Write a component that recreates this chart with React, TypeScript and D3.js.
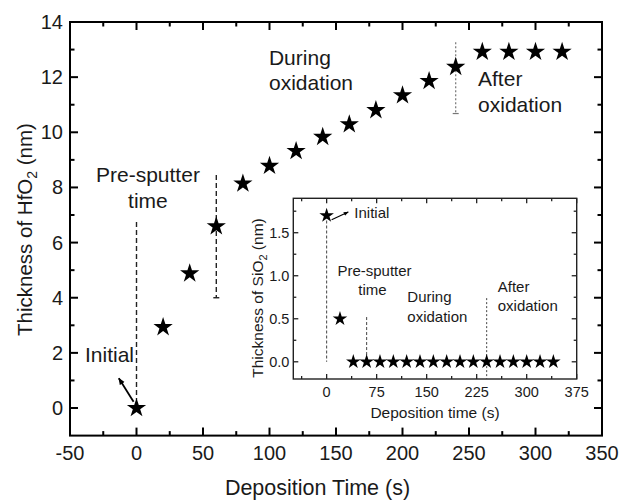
import React from "react";
import * as d3 from "d3";

// ---------- data ----------
const mainTimes = [0, 20, 40, 60, 80, 100, 120, 140, 160, 180, 200, 220, 240, 260, 280, 300, 320];
const mainThickness = [0, 2.93, 4.88, 6.59, 8.14, 8.78, 9.32, 9.83, 10.29, 10.8, 11.34, 11.86, 12.37, 12.92, 12.92, 12.92, 12.92];

const insetTimes = [0, 20, 40, 60, 80, 100, 120, 140, 160, 180, 200, 220, 240, 260, 280, 300, 320, 340];
const insetThickness = [1.7, 0.5, 0, 0, 0, 0, 0, 0, 0, 0, 0, 0, 0, 0, 0, 0, 0, 0];

const mainXTicks = [-50, 0, 50, 100, 150, 200, 250, 300, 350];
const mainXMinor = [-25, 25, 75, 125, 175, 225, 275, 325];
const mainYTicks = [0, 2, 4, 6, 8, 10, 12, 14];
const mainYMinor = [1, 3, 5, 7, 9, 11, 13];

const insetXTicks = [0, 75, 150, 225, 300, 375];
const insetXMinor = [-37.5, 37.5, 112.5, 187.5, 262.5, 337.5];
const insetYTicks = [0, 0.5, 1.0, 1.5];
const insetYMinor = [0.25, 0.75, 1.25, 1.75];

const FONT = "'Liberation Sans', Arial, Helvetica, sans-serif";

export default function App() {
  // main scales
  const x = d3.scaleLinear().domain([-50, 350]).range([70, 602]);
  const y = d3.scaleLinear().domain([-1, 14]).range([435.6, 22]);
  // inset scales
  const ix = d3.scaleLinear().domain([-50, 375]).range([293.3, 576.7]);
  const iy = d3.scaleLinear().domain([-0.2, 1.9]).range([379, 198.3]);

  const bigStar = d3.symbol().type(d3.symbolStar).size(115)() as string;
  const smallStar = d3.symbol().type(d3.symbolStar).size(66)() as string;

  const [mx0, mx1] = x.range();
  const [my0, my1] = y.range();
  const [ix0, ix1] = ix.range();
  const [iy0, iy1] = iy.range();

  const majorLen = 8, minorLen = 4.5;
  const iMajor = 5, iMinor = 3;

  return (
    <svg
      width={621}
      height={500}
      style={{ position: "absolute", left: 0, top: 0, display: "block", fontFamily: FONT, background: "#fff" }}
    >
      <defs>
        <marker id="arrowBig" viewBox="0 0 10 10" refX="9" refY="5" markerWidth="7" markerHeight="7" orient="auto" markerUnits="userSpaceOnUse">
          <path d="M0,1 L10,5 L0,9 Z" fill="#000" />
        </marker>
        <marker id="arrowSmall" viewBox="0 0 10 10" refX="9" refY="5" markerWidth="5" markerHeight="5" orient="auto" markerUnits="userSpaceOnUse">
          <path d="M0,1 L10,5 L0,9 Z" fill="#000" />
        </marker>
      </defs>
      <g>
        {/* ===== MAIN ===== */}
        {mainXTicks.map((t) => (
          <g key={"mx" + t}>
            <line x1={x(t)} x2={x(t)} y1={my0} y2={my0 - majorLen} stroke="#000" strokeWidth={2} />
            <line x1={x(t)} x2={x(t)} y1={my1} y2={my1 + majorLen} stroke="#000" strokeWidth={2} />
            <text x={x(t)} y={460} fontSize={20} textAnchor="middle" fill="#1a1a1a">{t}</text>
          </g>
        ))}
        {mainXMinor.map((t) => (
          <g key={"mxm" + t}>
            <line x1={x(t)} x2={x(t)} y1={my0} y2={my0 - minorLen} stroke="#000" strokeWidth={2} />
            <line x1={x(t)} x2={x(t)} y1={my1} y2={my1 + minorLen} stroke="#000" strokeWidth={2} />
          </g>
        ))}
        {mainYTicks.map((t) => (
          <g key={"my" + t}>
            <line x1={mx0} x2={mx0 + majorLen} y1={y(t)} y2={y(t)} stroke="#000" strokeWidth={2} />
            <line x1={mx1} x2={mx1 - majorLen} y1={y(t)} y2={y(t)} stroke="#000" strokeWidth={2} />
            <text x={mx0 - 7} y={y(t) + 7} fontSize={20} textAnchor="end" fill="#1a1a1a">{t}</text>
          </g>
        ))}
        {mainYMinor.map((t) => (
          <g key={"mym" + t}>
            <line x1={mx0} x2={mx0 + minorLen} y1={y(t)} y2={y(t)} stroke="#000" strokeWidth={2} />
            <line x1={mx1} x2={mx1 - minorLen} y1={y(t)} y2={y(t)} stroke="#000" strokeWidth={2} />
          </g>
        ))}
        <rect x={mx0} y={my1} width={mx1 - mx0} height={my0 - my1} fill="none" stroke="#000" strokeWidth={2} />

        <text x={317.5} y={495} fontSize={21.5} textAnchor="middle" fill="#1a1a1a">Deposition Time (s)</text>
        <text transform={`translate(31.5,229.5) rotate(-90)`} fontSize={20.5} textAnchor="middle" fill="#1a1a1a">
          Thickness of HfO<tspan fontSize={14} dy={5}>2</tspan><tspan dy={-5}> (nm)</tspan>
        </text>

        <line x1={x(0)} x2={x(0)} y1={y(6.75)} y2={y(0.3)} stroke="#222" strokeWidth={1.4} strokeDasharray="5,3" />
        <line x1={x(60)} x2={x(60)} y1={y(8.45)} y2={y(4.0)} stroke="#222" strokeWidth={1.4} strokeDasharray="5,3" />
        <line x1={x(60) - 3} x2={x(60) + 3} y1={y(4.0)} y2={y(4.0)} stroke="#222" strokeWidth={1.4} />
        <line x1={x(240)} x2={x(240)} y1={y(13.27)} y2={y(10.68)} stroke="#777" strokeWidth={1.2} strokeDasharray="2,2" />
        <line x1={x(240) - 3} x2={x(240) + 3} y1={y(10.68)} y2={y(10.68)} stroke="#777" strokeWidth={1.2} />

        <line x1={x(-2.2)} y1={y(0.23)} x2={x(-13.3)} y2={y(1.08)} stroke="#000" strokeWidth={1.8} markerEnd="url(#arrowBig)" />

        <g fontSize={21} fill="#1a1a1a">
          <text x={x(-38.7)} y={y(1.67)}>Initial</text>
          <text x={x(8.6)} y={y(8.21)} textAnchor="middle">Pre-sputter</text>
          <text x={x(8.6)} y={y(7.25)} textAnchor="middle">time</text>
          <text x={x(99.6)} y={y(12.44)}>During</text>
          <text x={x(99.6)} y={y(11.55)}>oxidation</text>
          <text x={x(256.8)} y={y(11.68)}>After</text>
          <text x={x(256.8)} y={y(10.74)}>oxidation</text>
        </g>

        {mainTimes.map((t, i) => (
          <path key={"s" + i} d={bigStar} transform={`translate(${x(t)},${y(mainThickness[i])})`} fill="#000" />
        ))}

        {/* ===== INSET ===== */}
        <rect x={ix0} y={iy1} width={ix1 - ix0} height={iy0 - iy1} fill="#fff" stroke="none" />
        {insetXTicks.map((t) => (
          <g key={"ix" + t}>
            <line x1={ix(t)} x2={ix(t)} y1={iy0} y2={iy0 - iMajor} stroke="#222" strokeWidth={1.3} />
            <line x1={ix(t)} x2={ix(t)} y1={iy1} y2={iy1 + iMajor} stroke="#222" strokeWidth={1.3} />
            <text x={ix(t)} y={396.5} fontSize={14.5} textAnchor="middle" fill="#1a1a1a">{t}</text>
          </g>
        ))}
        {insetXMinor.map((t) => (
          <g key={"ixm" + t}>
            <line x1={ix(t)} x2={ix(t)} y1={iy0} y2={iy0 - iMinor} stroke="#222" strokeWidth={1.3} />
            <line x1={ix(t)} x2={ix(t)} y1={iy1} y2={iy1 + iMinor} stroke="#222" strokeWidth={1.3} />
          </g>
        ))}
        {insetYTicks.map((t) => (
          <g key={"iy" + t}>
            <line x1={ix0} x2={ix0 + iMajor} y1={iy(t)} y2={iy(t)} stroke="#222" strokeWidth={1.3} />
            <line x1={ix1} x2={ix1 - iMajor} y1={iy(t)} y2={iy(t)} stroke="#222" strokeWidth={1.3} />
            <text x={ix0 - 4} y={iy(t) + 5} fontSize={14.5} textAnchor="end" fill="#1a1a1a">{t.toFixed(1)}</text>
          </g>
        ))}
        {insetYMinor.map((t) => (
          <g key={"iym" + t}>
            <line x1={ix0} x2={ix0 + iMinor} y1={iy(t)} y2={iy(t)} stroke="#222" strokeWidth={1.3} />
            <line x1={ix1} x2={ix1 - iMinor} y1={iy(t)} y2={iy(t)} stroke="#222" strokeWidth={1.3} />
          </g>
        ))}
        <rect x={ix0} y={iy1} width={ix1 - ix0} height={iy0 - iy1} fill="none" stroke="#222" strokeWidth={1.4} />

        <text x={435} y={418.3} fontSize={15.5} textAnchor="middle" fill="#1a1a1a">Deposition time (s)</text>
        <text transform={`translate(263,298) rotate(-90)`} fontSize={15.5} textAnchor="middle" fill="#1a1a1a">
          Thickness of SiO<tspan fontSize={11} dy={4}>2</tspan><tspan dy={-4}> (nm)</tspan>
        </text>

        <line x1={ix(0)} x2={ix(0)} y1={iy(1.7)} y2={iy(0)} stroke="#444" strokeWidth={1} strokeDasharray="3,2" />
        <line x1={ix(60)} x2={ix(60)} y1={iy(0.52)} y2={iy(0)} stroke="#444" strokeWidth={1} strokeDasharray="3,2" />
        <line x1={ix(240)} x2={ix(240)} y1={iy(0.74)} y2={iy(-0.2)} stroke="#444" strokeWidth={1} strokeDasharray="2,2" />

        <line x1={ix(7.5)} y1={iy(1.65)} x2={ix(32.4)} y2={iy(1.74)} stroke="#000" strokeWidth={1.2} markerEnd="url(#arrowSmall)" />

        <g fontSize={15} fill="#1a1a1a">
          <text x={ix(41.5)} y={iy(1.671)}>Initial</text>
          <text x={ix(71.8)} y={iy(0.997)} textAnchor="middle">Pre-sputter</text>
          <text x={ix(68.8)} y={iy(0.776)} textAnchor="middle">time</text>
          <text x={ix(121)} y={iy(0.695)}>During</text>
          <text x={ix(121)} y={iy(0.466)}>oxidation</text>
          <text x={ix(256.6)} y={iy(0.815)}>After</text>
          <text x={ix(256.6)} y={iy(0.594)}>oxidation</text>
        </g>

        {insetTimes.map((t, i) => (
          <path key={"is" + i} d={smallStar} transform={`translate(${ix(t)},${iy(insetThickness[i])})`} fill="#000" />
        ))}
      </g>
    </svg>
  );
}
